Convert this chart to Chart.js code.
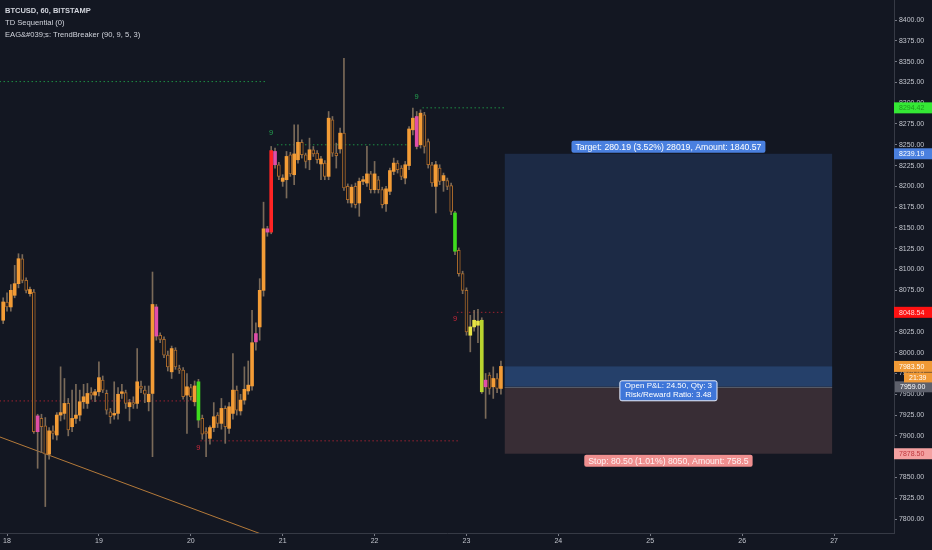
<!DOCTYPE html>
<html><head><meta charset="utf-8">
<script src="https://cdn.jsdelivr.net/npm/chart.js@4.4.1/dist/chart.umd.min.js"></script>
<style>html,body{margin:0;padding:0;background:#131722;overflow:hidden}#wrap{width:932px;height:550px;position:relative}</style>
</head><body><div id="wrap"><canvas id="c" width="932" height="550"></canvas></div>
<script>
// ---- data (hourly BTCUSD candles; x = hours since 18th 00:00) ----
const startHour = -1;
const opens = [
 8039,8061,8055,8069,8083,8113,8087,8071,8073,7905,
 7921,7912,7878,7906,7901,7925,7927,7939,7911,7921,
 7925,7941,7939,7952,7949,7953,7967,7951,7929,7925,
 7927,7951,7952,7935,7940,7939,7960,7955,7941,7951,
 8055,8021,8016,7997,7977,8003,7981,7979,7949,7958,
 7941,7965,7921,7905,7897,7910,7925,7915,7933,7909,
 7927,7955,7930,7943,7954,7960,8013,8031,8075,8149,
 8145,8242,8226,8206,8208,8238,8214,8232,8253,8238,
 8232,8244,8240,8227,8228,8212,8280,8240,8245,8264,
 8200,8180,8200,8180,8206,8204,8215,8196,8208,8196,
 8179,8194,8218,8228,8222,8210,8225,8268,8284,8250,
 8286,8254,8226,8200,8222,8207,8207,8201,8168,8123,
 8095,8075,8021,8031,8038,8039,7959,7973,7959,7969,
 7957];
const highs = [
 8066,8072,8082,8105,8119,8118,8090,8079,8076,7926,
 7926,7922,7910,7912,7928,7983,7969,7945,7955,7962,
 7955,7962,7963,7958,7956,7989,7972,7955,7933,7965,
 7958,7962,7955,7944,7947,8005,7966,7960,7960,8097,
 8058,8024,8019,8002,8008,8006,7985,7982,7975,7962,
 7966,7968,7925,7910,7912,7940,7928,7945,7936,7940,
 7999,7960,7950,7983,7990,8051,8036,8089,8181,8152,
 8248,8246,8229,8214,8242,8241,8274,8274,8256,8240,
 8258,8248,8243,8236,8231,8290,8284,8252,8270,8354,
 8203,8202,8204,8210,8212,8248,8218,8230,8212,8199,
 8200,8222,8234,8231,8225,8230,8272,8294,8290,8292,
 8289,8257,8229,8230,8226,8216,8210,8204,8170,8126,
 8098,8078,8045,8051,8052,8042,7975,7976,7983,7975,
 7990];
const lows = [
 8035,8050,8050,8066,8078,8084,8072,8068,7903,7861,
 7880,7815,7872,7896,7895,7918,7920,7900,7905,7915,
 7918,7933,7933,7944,7941,7948,7952,7926,7915,7920,
 7920,7945,7933,7918,7933,7933,7952,7940,7930,7875,
 8015,8012,7994,7978,7969,7980,7975,7944,7903,7943,
 7936,7910,7896,7875,7890,7905,7910,7908,7891,7903,
 7920,7925,7925,7938,7950,7955,8003,8015,8068,8140,
 8143,8222,8208,8200,8186,8212,8202,8228,8234,8222,
 8220,8236,8228,8208,8208,8208,8236,8222,8240,8195,
 8180,8175,8174,8164,8202,8200,8192,8192,8192,8174,
 8170,8190,8214,8216,8208,8203,8220,8262,8245,8246,
 8240,8222,8200,8168,8202,8194,8196,8166,8118,8092,
 8071,8021,8001,8026,8012,7951,7921,7950,7945,7952,
 7950];
const closes = [
 8061,8055,8075,8083,8113,8087,8075,8076,7905,7924,
 7911,7878,7906,7903,7925,7928,7939,7907,7921,7925,
 7941,7947,7951,7949,7953,7970,7955,7931,7923,7927,
 7950,7953,7939,7940,7938,7965,7957,7950,7950,8058,
 8020,8016,7997,7983,8005,7983,7979,7947,7959,7947,
 7960,7919,7902,7903,7910,7923,7915,7933,7911,7935,
 7955,7931,7943,7956,7961,8012,8023,8075,8149,8145,
 8243,8226,8212,8210,8236,8215,8239,8253,8238,8230,
 8244,8239,8232,8233,8212,8282,8240,8237,8264,8198,
 8184,8199,8178,8206,8208,8215,8196,8215,8196,8178,
 8197,8219,8228,8220,8212,8226,8269,8282,8248,8288,
 8248,8226,8204,8226,8206,8213,8200,8170,8122,8095,
 8075,8025,8031,8039,8033,7953,7967,7957,7969,7957,
 7983.5];

// indicator bar colouring (hours)
const pinkHours = [8, 39, 65, 68, 70, 107, 125];
const redHours = [69];
const greenHours = [50, 117];
const yellowHours = [121, 122, 123];
const limeHours = [124];

// TrendBreaker levels: [fromHour, toHour, price]
const resistanceLevels = [[-3, 68, 8326], [70.5, 105, 8250], [108.5, 130, 8294.42]];
const supportLevels = [[-3, 49, 7942], [50.5, 118, 7894], [117.5, 130, 8048.54]];
const trendLine = [[-1.83, 7898.6], [90, 7741.6]];

// TD sequential counts
const tdHours = [69, 107, 50, 117];
const tdPrices = [8264, 8307, 7885, 8040];
const tdTexts = ['9', '9', '9', '9'];
const tdKinds = ['sell', 'sell', 'buy', 'buy'];

// long position tool
const posStartHour = 130, posEndHour = 215.5;
const entryPrice = 7959.00, targetPrice = 8239.19, stopPrice = 7878.50, lastPrice = 7983.50;
const targetText = 'Target: 280.19 (3.52%) 28019, Amount: 1840.57';
const stopText = 'Stop: 80.50 (1.01%) 8050, Amount: 758.5';
const pnlText = ['Open P&L: 24.50, Qty: 3', 'Risk/Reward Ratio: 3.48'];

// axes
const dayLabels = ['18','19','20','21','22','23','24','25','26','27'];
const dayHours = [0,24,48,72,96,120,144,168,192,216];
const yTicks = [7800,7825,7850,7875,7900,7925,7950,7975,8000,8025,8050,8075,8100,8125,8150,8175,8200,8225,8250,8275,8300,8325,8350,8375,8400];
const headerLines = ['BTCUSD, 60, BITSTAMP', 'TD Sequential (0)', 'EAG&#039;s: TrendBreaker (90, 9, 5, 3)'];
const countdown = '21:39';

// ---- styles ----
const BG = '#131722';
const UP = '#f39c36';
const HOLLOW = '#a9692a';
const WICK = '#7a6a59';
const FONT = "'Liberation Sans', Arial, sans-serif";

const hours = opens.map((_, i) => startHour + i);
function special(i) {
  const h = hours[i];
  if (pinkHours.includes(h)) return '#e04ea8';
  if (redHours.includes(h)) return '#ff2424';
  if (greenHours.includes(h)) return '#3fdc1e';
  if (yellowHours.includes(h)) return '#e9e445';
  if (limeHours.includes(h)) return '#b9d42e';
  return null;
}
function hollow(i) { return !special(i) && closes[i] < opens[i]; }

const lineDs = (pts, color, dash, width) => ({
  type: 'line', data: pts.map(p => ({x: p[0], y: p[1]})), borderColor: color,
  borderWidth: width || 1, borderDash: dash || [], pointRadius: 0, pointHoverRadius: 0, pointHitRadius: 0,
  order: 5, tension: 0
});

const datasets = [
  {
    type: 'bar', label: 'body', order: 1, grouped: false, barThickness: 3, minBarLength: 1,
    data: hours.map((h, i) => ({x: h, y: [opens[i], closes[i]]})),
    backgroundColor: c => special(c.dataIndex) || (hollow(c.dataIndex) ? BG : UP),
    borderColor: c => hollow(c.dataIndex) ? HOLLOW : 'rgba(0,0,0,0)',
    borderWidth: c => hollow(c.dataIndex) ? 1 : 0,
    borderSkipped: false
  },
  {
    type: 'bar', label: 'wick', order: 2, grouped: false, barThickness: 1, minBarLength: 1,
    data: hours.map((h, i) => ({x: h, y: [lows[i], highs[i]]})),
    backgroundColor: WICK, borderWidth: 0
  },
  lineDs(trendLine, '#b47a3a', [], 1)
];
resistanceLevels.forEach(l => datasets.push(lineDs([[l[0], l[2]], [l[1], l[2]]], '#1e8f45', [1.5, 2.5])));
supportLevels.forEach(l => datasets.push(lineDs([[l[0], l[2]], [l[1], l[2]]], '#9c2331', [1.5, 2.5])));

function rbox(ctx, x, y, w, h, r, fill, stroke) {
  ctx.beginPath();
  ctx.moveTo(x + r, y); ctx.lineTo(x + w - r, y); ctx.quadraticCurveTo(x + w, y, x + w, y + r);
  ctx.lineTo(x + w, y + h - r); ctx.quadraticCurveTo(x + w, y + h, x + w - r, y + h);
  ctx.lineTo(x + r, y + h); ctx.quadraticCurveTo(x, y + h, x, y + h - r);
  ctx.lineTo(x, y + r); ctx.quadraticCurveTo(x, y, x + r, y); ctx.closePath();
  ctx.fillStyle = fill; ctx.fill();
  if (stroke) { ctx.strokeStyle = stroke; ctx.lineWidth = 1; ctx.stroke(); }
}

const bgPlugin = {
  id: 'bg',
  beforeDraw(chart) {
    const c = chart.ctx; c.save(); c.fillStyle = BG; c.fillRect(0, 0, chart.width, chart.height); c.restore();
  },
  beforeDatasetsDraw(chart) {
    const c = chart.ctx, xs = chart.scales.x, ys = chart.scales.y;
    const x1 = xs.getPixelForValue(posStartHour), x2 = xs.getPixelForValue(posEndHour);
    const yT = ys.getPixelForValue(targetPrice), yE = ys.getPixelForValue(entryPrice);
    const yS = ys.getPixelForValue(stopPrice), yC = ys.getPixelForValue(lastPrice);
    c.save();
    c.fillStyle = '#1c2a45'; c.fillRect(x1, yT, x2 - x1, yE - yT);
    c.fillStyle = '#25406a'; c.fillRect(x1, yC, x2 - x1, yE - yC);
    c.fillStyle = '#382d35'; c.fillRect(x1, yE, x2 - x1, yS - yE);
    c.strokeStyle = '#565a66'; c.lineWidth = 1;
    c.beginPath(); c.moveTo(x1, Math.round(yE) + 0.5); c.lineTo(x2, Math.round(yE) + 0.5); c.stroke();
    c.restore();
  },
  afterDraw(chart) {
    const c = chart.ctx, xs = chart.scales.x, ys = chart.scales.y, ca = chart.chartArea;
    c.save();
    // TD counts
    c.font = '7.5px ' + FONT; c.textAlign = 'center'; c.textBaseline = 'middle';
    tdHours.forEach((h, i) => {
      c.fillStyle = tdKinds[i] === 'sell' ? '#23a04f' : '#c9283b';
      c.fillText(tdTexts[i], xs.getPixelForValue(h), ys.getPixelForValue(tdPrices[i]));
    });
    // position tool labels
    const x1 = xs.getPixelForValue(posStartHour), x2 = xs.getPixelForValue(posEndHour), xm = (x1 + x2) / 2;
    const yT = ys.getPixelForValue(targetPrice), yE = ys.getPixelForValue(entryPrice), yS = ys.getPixelForValue(stopPrice);
    c.font = '8.7px ' + FONT;
    let w = c.measureText(targetText).width + 8;
    rbox(c, xm - w / 2, yT - 13, w, 12, 2, '#4a80df');
    c.fillStyle = '#ffffff'; c.fillText(targetText, xm, yT - 6.5);
    w = c.measureText(stopText).width + 8;
    rbox(c, xm - w / 2, yS + 1, w, 12, 2, '#ef8f8f');
    c.fillStyle = '#fff2f2'; c.fillText(stopText, xm, yS + 7.5);
    c.font = '8px ' + FONT;
    w = Math.max(c.measureText(pnlText[0]).width, c.measureText(pnlText[1]).width) + 10;
    rbox(c, xm - w / 2, yE - 6, w, 20, 2, '#3f76d8', '#e8eefc');
    c.fillStyle = '#ffffff';
    c.fillText(pnlText[0], xm, yE - 0.5);
    c.fillText(pnlText[1], xm, yE + 8);
    // price-axis labels
    const axL = ca.right;
    const tag = (price, text, bg, fg, x0) => {
      const y = ys.getPixelForValue(price);
      c.fillStyle = bg; c.fillRect(x0 || axL, y - 5.5, 932 - (x0 || axL), 11);
      c.fillStyle = fg; c.textAlign = 'left'; c.fillText(text, (x0 || axL) + 5, y + 0.5);
    };
    c.font = '7px ' + FONT;
    tag(8294.42, '8294.42', '#35e835', '#1f9a1f');
    tag(targetPrice, targetPrice.toFixed(2), '#4a80df', '#ffffff');
    tag(8048.54, '8048.54', '#ff1212', '#ffd6d6');
    tag(entryPrice, entryPrice.toFixed(2), '#5d606b', '#ffffff', axL + 1);
    tag(lastPrice, lastPrice.toFixed(2), '#f09a36', '#ffffff');
    c.fillStyle = '#f09a36';
    const yL = ys.getPixelForValue(lastPrice);
    c.fillRect(axL + 10, yL + 6, 932 - axL - 10, 10);
    c.fillStyle = '#ffffff'; c.textAlign = 'left'; c.fillText(countdown, axL + 15, yL + 11.5);
    tag(stopPrice, stopPrice.toFixed(2), '#f4a1a1', '#c0393f');
    // header
    c.textAlign = 'left'; c.textBaseline = 'middle'; c.fillStyle = '#d1d4dc';
    c.font = 'bold 7.5px ' + FONT; c.fillText(headerLines[0], 5, 10.5);
    c.font = '7.6px ' + FONT; c.fillText(headerLines[1], 5, 22.5); c.fillText(headerLines[2], 5, 34.5);
    c.restore();
  }
};

new Chart(document.getElementById('c'), {
  type: 'bar',
  data: { datasets },
  options: {
    responsive: false, animation: false, devicePixelRatio: 1,
    layout: { padding: 0, autoPadding: false },
    plugins: { legend: { display: false }, tooltip: { enabled: false } },
    scales: {
      x: {
        type: 'linear', min: -1.83, max: 231.66, offset: false,
        afterFit: s => { s.height = 17; },
        afterBuildTicks: s => { s.ticks = dayHours.map(v => ({value: v})); },
        grid: { display: true, drawOnChartArea: false, drawTicks: true, tickLength: 3, tickColor: '#787b86', offset: false },
        border: { display: true, color: '#363a45' },
        ticks: { color: '#c3c6ce', font: { family: FONT, size: 7, lineHeight: 1.2 }, padding: 1, maxRotation: 0, autoSkip: false,
          callback: (v, i) => dayLabels[i] }
      },
      y: {
        type: 'linear', position: 'right', min: 7783.2, max: 8424.05,
        afterFit: s => { s.width = 38; },
        afterBuildTicks: s => { s.ticks = yTicks.map(v => ({value: v})); },
        grid: { display: true, drawOnChartArea: false, drawTicks: true, tickLength: 3, tickColor: '#787b86' },
        border: { display: true, color: '#363a45' },
        ticks: { color: '#c3c6ce', font: { family: FONT, size: 7, lineHeight: 0.01 }, padding: 0, autoSkip: false,
          callback: v => ' ' + Number(v).toFixed(2) }
      }
    }
  },
  plugins: [bgPlugin]
});
</script>
</body></html>
